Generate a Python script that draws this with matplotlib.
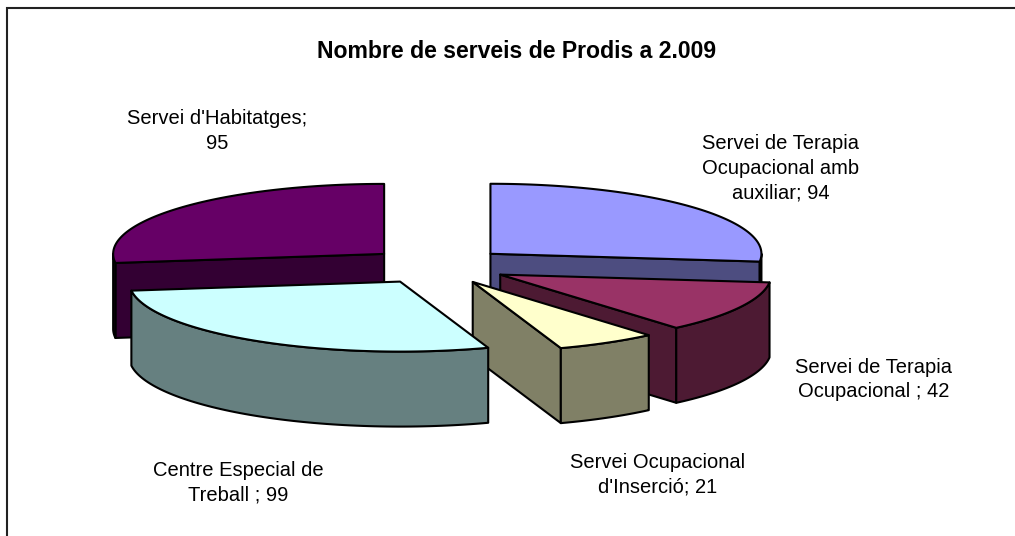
import numpy as np
import matplotlib
matplotlib.use("Agg")
import matplotlib.pyplot as plt
from matplotlib.patches import Polygon

plt.rcParams['font.family'] = ['Liberation Sans', 'DejaVu Sans']

title = "Nombre de serveis de Prodis a 2.009"
categories = ["Servei de Terapia\nOcupacional amb\nauxiliar",
              "Servei de Terapia\nOcupacional ",
              "Servei Ocupacional\nd'Inserció",
              "Centre Especial de\nTreball ",
              "Servei d'Habitatges"]
values = [94, 42, 21, 99, 95]
separators = ["; ", "; ", "; ", "; ", ";\n"]
top_colors = ["#9999FF", "#993366", "#FFFFCC", "#CCFFFF", "#660066"]
side_colors = ["#4D4D80", "#4D1A33", "#808066", "#668080", "#330033"]
label_xy = [(781, 168.5), (873.5, 379.5), (658, 474.5), (238, 483), (217.5, 131)]

W, H = 1015, 536
CX, CY = 437.5, 266.0      # pie centre
A, B = 271.0, 70.0         # ellipse radii
DEPTH = 75.0               # extrusion
EXPLODE = 71.0             # explosion along the radius

fig = plt.figure(figsize=(W / 100, H / 100), dpi=100)
ax = fig.add_axes([0, 0, 1, 1])
ax.set_xlim(0, W)
ax.set_ylim(H, 0)
ax.axis("off")

# frame: left and top sides only reach the canvas edges
ax.plot([7, 7, W], [H, 7.5, 7.5], color="#222222", lw=1.5, solid_capstyle="butt",
        solid_joinstyle="miter", zorder=1)


def pt(theta, ox, oy):
    return ox + A * np.sin(theta), oy - B * np.cos(theta)


def arc(t0, t1, ox, oy, n=80):
    t = np.linspace(t0, t1, n)
    return np.column_stack(pt(t, ox, oy))


values_arr = np.array(values, dtype=float)
edges = np.deg2rad(np.concatenate([[0], np.cumsum(values_arr)]) / values_arr.sum() * 360)

# paint order: back slices first
order = [4, 0, 1, 2, 3]
z = 2
for i in order:
    t0, t1 = edges[i], edges[i + 1]
    mid = (t0 + t1) / 2
    ox = CX + EXPLODE * np.sin(mid)
    oy = CY - EXPLODE * (B / A) * np.cos(mid)
    style = dict(edgecolor="black", lw=1.5, joinstyle="round")
    apex = np.array([[ox, oy]])
    down = np.array([0, DEPTH])
    # radial walls facing the viewer
    for t in (t0, t1):
        p = np.array(pt(t, ox, oy))
        faces_front = (np.sin(t) > 0 and t == t1) or (np.sin(t) < 0 and t == t0)
        if faces_front:
            quad = np.vstack([apex, [p], [p + down], apex + down])
            ax.add_patch(Polygon(quad, closed=True, facecolor=side_colors[i], zorder=z, **style))
            z += 1
    # outer rim where it faces the viewer (lower half of the ellipse)
    r0, r1 = max(t0, np.pi / 2), min(t1, 3 * np.pi / 2)
    if r1 > r0:
        a = arc(r0, r1, ox, oy)
        rim = np.vstack([a, a[::-1] + down])
        ax.add_patch(Polygon(rim, closed=True, facecolor=side_colors[i], zorder=z, **style))
        z += 1
    top = np.vstack([apex, arc(t0, t1, ox, oy)])
    ax.add_patch(Polygon(top, closed=True, facecolor=top_colors[i], zorder=z, **style))
    z += 1

for cat, val, sep, (x, y) in zip(categories, values, separators, label_xy):
    ax.text(x, y, f"{cat}{sep}{val}", ha="center", va="center", fontsize=14.5, color="black",
            linespacing=1.39, zorder=50)

ax.text(516.5, 51, title, ha="center", va="center", fontsize=16.6, fontweight="bold", zorder=50)

fig.savefig("out.png", dpi=100, facecolor="white")
